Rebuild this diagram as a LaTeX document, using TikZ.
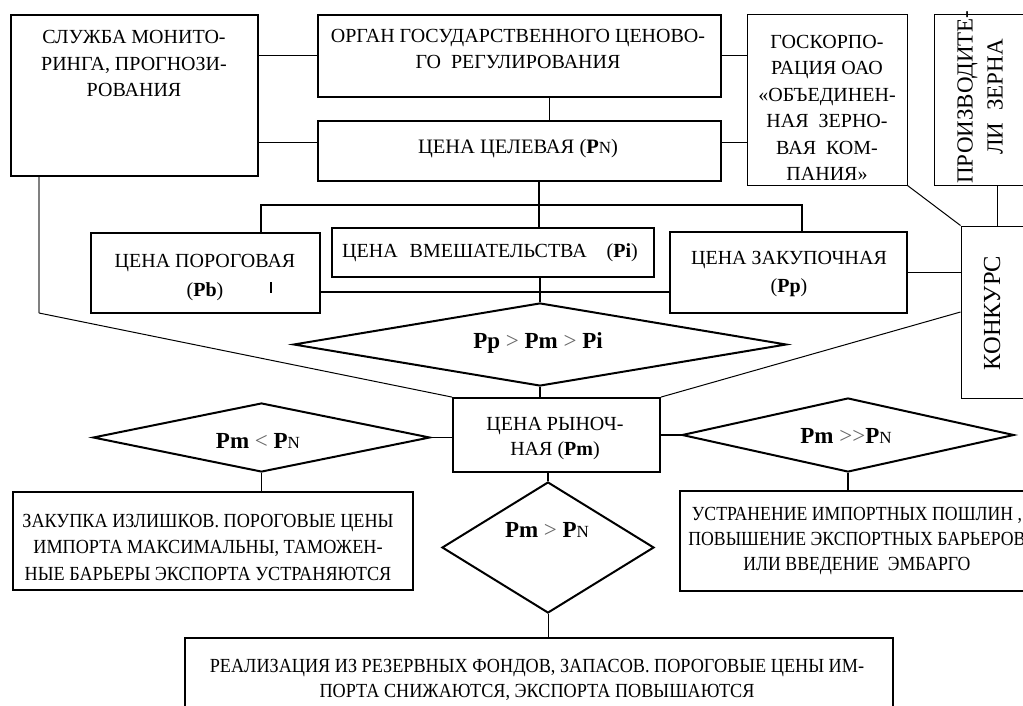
\documentclass[tikz,border=0pt]{standalone}
\usepackage{fontspec}
\setmainfont{Liberation Serif}
\newfontfamily\narrowfont{Liberation Serif}[FakeStretch=0.91]
\newfontfamily\narrowerfont{Liberation Serif}[FakeStretch=0.885]
\usetikzlibrary{shapes.geometric}
\newcommand{\PNx}{\textbf{P}{\fontsize{17}{17}\selectfont N}}
\newcommand{\mygt}{{\color{black!60}\textgreater}}
\newcommand{\mylt}{{\color{black!60}\textless}}
\begin{document}
\begin{tikzpicture}[x=1pt,y=-1pt,
  tb/.style={draw, rectangle, line width=2.2pt, inner sep=0pt},
  nb/.style={draw, rectangle, line width=1pt, inner sep=0pt},
  dia/.style={draw, diamond, line width=2pt, inner sep=0pt},
  txt/.style={inner sep=0pt, align=center, font=\fontsize{20}{26.5}\selectfont},
  dtxt/.style={inner sep=0pt, align=center, font=\fontsize{23}{26}\selectfont},
  rtxt/.style={inner sep=0pt, align=center, rotate=90, font=\fontsize{23}{30}\selectfont},
  conn/.style={line width=1pt},
  tree/.style={line width=1.8pt},
  grayconn/.style={line width=1.2pt, black!50}]
\clip (0,0) rectangle (1023,706);
\fill[white] (0,0) rectangle (1023,706);
% boxes
\node[tb, minimum width=247pt, minimum height=161pt] (sluzhba) at (134.5,95.5) {};
\node[tb, minimum width=403pt, minimum height=82pt] (organ) at (519.5,56) {};
\node[tb, minimum width=403pt, minimum height=60pt] (celev) at (519.5,151) {};
\node[nb, minimum width=160pt, minimum height=170pt] (goskorp) at (827,100) {};
\node[nb, minimum width=101pt, minimum height=170pt] (proizv) at (984.5,100) {};
\node[nb, minimum width=74pt, minimum height=172pt] (konk) at (998,312) {};
\node[tb, minimum width=229pt, minimum height=80pt] (poro) at (205.5,273) {};
\node[tb, minimum width=322pt, minimum height=49pt] (vmesh) at (493,252.5) {};
\node[tb, minimum width=237pt, minimum height=81pt] (zak) at (788.5,272.5) {};
\node[tb, line width=1.8pt, minimum width=207pt, minimum height=74pt] (ryn) at (556.5,435) {};
\node[tb, minimum width=400pt, minimum height=98pt] (zakupka) at (213,541) {};
\node[tb, minimum width=360pt, minimum height=100pt] (ustr) at (860,541) {};
\node[tb, minimum width=708pt, minimum height=82pt] (real) at (539,679) {};
% diamonds
\node[dia, minimum width=493pt, minimum height=83pt] (mainD) at (540,344.5) {};
\node[dia, minimum width=337pt, minimum height=69pt] (d1) at (261.5,437.5) {};
\node[dia, minimum width=332pt, minimum height=74pt] (d3) at (848,435) {};
\node[dia, minimum width=212pt, minimum height=131pt] (d2) at (548,547.5) {};
% texts
\node[txt] (sluzhbaT) at (134,63.5) {СЛУЖБА МОНИТО-\\РИНГА, ПРОГНОЗИ-\\РОВАНИЯ};
\node[txt, font=\fontsize{20}{26}\selectfont] (organT) at (518,49) {ОРГАН ГОСУДАРСТВЕННОГО ЦЕНОВО-\\ГО\ \ РЕГУЛИРОВАНИЯ};
\node[txt, font=\fontsize{20.5}{26}\selectfont] (celevT) at (518,149) {ЦЕНА ЦЕЛЕВАЯ (\PNx)};
\node[txt] (goskorpT) at (827,108) {ГОСКОРПО-\\РАЦИЯ ОАО\\«ОБЪЕДИНЕН-\\НАЯ\ \ ЗЕРНО-\\ВАЯ\ \ КОМ-\\ПАНИЯ»};
\node[rtxt] (proizvT) at (980,97) {ПРОИЗВОДИТЕ-\\ЛИ\ \ ЗЕРНА};
\node[rtxt, font=\fontsize{24.5}{30}\selectfont] (konkT) at (992,313) {КОНКУРС};
\node[txt, font=\fontsize{20}{29}\selectfont] (poroT) at (205,278) {ЦЕНА ПОРОГОВАЯ\\(\textbf{Pb})};
\node[txt] (vmeshT) at (490,253) {ЦЕНА\hspace{0.6em}ВМЕШАТЕЛЬСТВА\hspace{1em}(\textbf{Pi})};
\node[txt, font=\fontsize{20}{28}\selectfont] (zakT) at (789,274.5) {ЦЕНА ЗАКУПОЧНАЯ\\(\textbf{Pp})};
\node[dtxt] (mainDT) at (538,343) {\textbf{Pp} \mygt{} \textbf{Pm} \mygt{} \textbf{Pi}};
\node[txt, font=\fontsize{20}{25}\selectfont] (rynT) at (555,439) {ЦЕНА РЫНОЧ-\\НАЯ (\textbf{Pm})};
\node[dtxt] (d1T) at (258,441) {\textbf{Pm} \mylt{} \PNx};
\node[dtxt] (d3T) at (846,436) {\textbf{Pm} \mygt\mygt\PNx};
\node[dtxt] (d2T) at (547,530) {\textbf{Pm} \mygt{} \PNx};
\node[txt, font=\narrowfont\fontsize{20}{26.5}\selectfont] (zakupkaT) at (208,547) {ЗАКУПКА ИЗЛИШКОВ. ПОРОГОВЫЕ ЦЕНЫ\\ИМПОРТА МАКСИМАЛЬНЫ, ТАМОЖЕН-\\НЫЕ БАРЬЕРЫ ЭКСПОРТА УСТРАНЯЮТСЯ};
\node[txt, font=\narrowerfont\fontsize{20}{25}\selectfont] (ustrT) at (857,541.5) {УСТРАНЕНИЕ ИМПОРТНЫХ ПОШЛИН ,\\ПОВЫШЕНИЕ ЭКСПОРТНЫХ БАРЬЕРОВ\\ИЛИ ВВЕДЕНИЕ\ \ ЭМБАРГО};
\node[txt, font=\narrowfont\fontsize{20}{25}\selectfont] (realT) at (537,680) {РЕАЛИЗАЦИЯ ИЗ РЕЗЕРВНЫХ ФОНДОВ, ЗАПАСОВ. ПОРОГОВЫЕ ЦЕНЫ ИМ-\\ПОРТА СНИЖАЮТСЯ, ЭКСПОРТА ПОВЫШАЮТСЯ};
% helper coordinates
\coordinate (busC) at (539,205);
\coordinate (busL) at (261,205);
\coordinate (busR) at (802,205);
\coordinate (midbus) at (0,292);
\coordinate (sl1) at (39,313);
\coordinate (pk) at (997,0);
\coordinate (cw) at ([yshift=8pt]celev.west);
\coordinate (ce) at ([yshift=8pt]celev.east);
\coordinate (ov) at ([xshift=30pt]organ.south);
% connectors
\draw[conn] (organ.west -| sluzhba.east) -- (organ.west);
\draw[conn] (cw -| sluzhba.east) -- (cw);
\draw[conn] (organ.east) -- (organ.east -| goskorp.west);
\draw[conn] (ce) -- (ce -| goskorp.west);
\draw[conn] (ov) -- (ov |- celev.north);
\draw[tree] (busC |- celev.south) -- (busC |- vmesh.north);
\draw[tree] (busL |- poro.north) -- (busL) -- (busR) -- (busR |- zak.north);
\draw[tree] (mainD.north |- vmesh.south) -- (mainD.north);
\draw[tree] (midbus -| poro.east) -- (midbus -| zak.west);
\draw[conn] (zak.east) -- (zak.east -| konk.west);
\draw[conn] (pk |- proizv.south) -- (pk |- konk.north);
\draw[conn] (goskorp.south east) -- (konk.north west);
\draw[conn] (konk.west) -- (ryn.north east);
\draw[grayconn] (sluzhba.south -| sl1) -- (sl1);
\draw[conn] (sl1) -- (ryn.north west);
\draw[tree] (mainD.south) -- (mainD.south |- ryn.north);
\draw[tree] (d1.east) -- (d1.east -| ryn.west);
\draw[tree] (ryn.east |- d3.west) -- (d3.west);
\draw[tree] (d2.north |- ryn.south) -- (d2.north);
\draw[tree] (d1.south) -- (d1.south |- zakupka.north);
\draw[tree] (d3.south) -- (d3.south |- ustr.north);
\draw[conn] (d2.south) -- (d2.south |- real.north);
% stray tick in the threshold-price box
\draw[line width=1.5pt] (271,282) -- (271,293);
\end{tikzpicture}
\end{document}
